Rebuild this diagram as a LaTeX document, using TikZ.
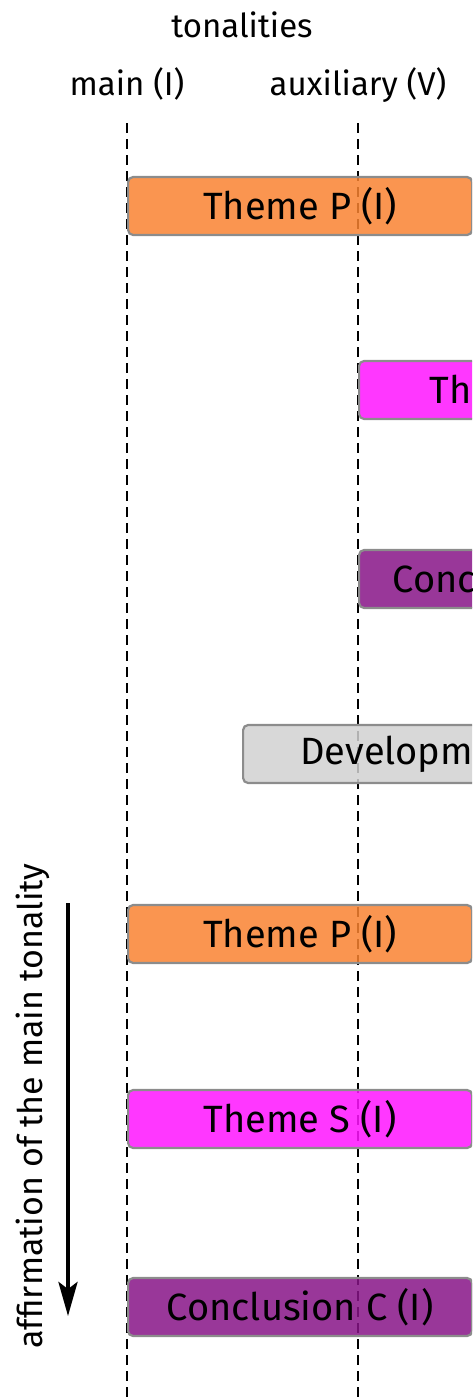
\documentclass[tikz,border=0pt]{standalone}
\usepackage{fontspec}
\setmainfont{Fira Sans}
\usetikzlibrary{arrows.meta}
\definecolor{themeP}{RGB}{249,131,49}
\definecolor{themeS}{RGB}{255,20,255}
\definecolor{concl}{RGB}{135,20,135}
\definecolor{devel}{RGB}{209,209,209}
\definecolor{rim}{RGB}{140,140,140}
\tikzset{
  section/.style={draw=rim, line width=2.2pt, rounded corners=5pt,
    minimum width=344pt, minimum height=58pt, inner sep=0pt,
    fill opacity=0.85, text opacity=1,
    font=\fontsize{38}{46}\selectfont},
  header/.style={anchor=base, font=\fontsize{33}{40}\selectfont},
  guide/.style={line width=1.6pt, dash pattern=on 10pt off 6pt},
}
\begin{document}
\begin{tikzpicture}[x=1pt, y=-1pt]
  \useasboundingbox (0,0) rectangle (472,1398);
  \clip (0,0) rectangle (472,1398);

  % column headers
  \node[header] (ton) at (242,37) {tonalities};
  \node[header] (main) at (127,95) {main (I)};
  \node[header] (aux) at (358,95) {auxiliary (V)};

  % tonality guide lines
  \coordinate (mtop) at (127,123);
  \coordinate (mbot) at (127,1398);
  \coordinate (atop) at (358,123);
  \coordinate (abot) at (358,1398);
  \draw[guide] (mtop) -- (mbot);
  \draw[guide] (atop) -- (abot);

  % exposition
  \node[section, fill=themeP, anchor=west] (p1) at (127,206) {Theme P (I)};
  \node[section, fill=themeS, anchor=west] (s1) at (358,390) {Theme S (V)};
  \node[section, fill=concl,  anchor=west] (c1) at (358,579) {Conclusion C (V)};
  % development
  \node[section, fill=devel,  anchor=west] (dev) at (242,754) {Development};
  % recapitulation
  \node[section, fill=themeP, anchor=west] (p2) at (127,934) {Theme P (I)};
  \node[section, fill=themeS, anchor=west] (s2) at (127,1119) {Theme S (I)};
  \node[section, fill=concl,  anchor=west] (c2) at (127,1307) {Conclusion C (I)};

  % affirmation arrow
  \coordinate (astart) at (68,903);
  \coordinate (aend) at (68,1316);
  \draw[line width=4pt, -{Stealth[length=34pt, width=19pt, inset=7pt]}] (astart) -- (aend);
  \node[rotate=90, font=\fontsize{34}{40}\selectfont] (affirm) at (33,1106)
    {affirmation of the main tonality};
\end{tikzpicture}
\end{document}
